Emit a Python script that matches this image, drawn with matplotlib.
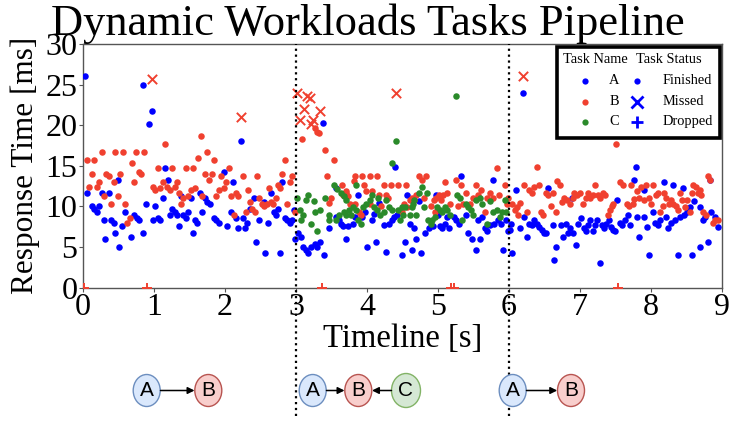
import matplotlib
matplotlib.use("Agg")
import matplotlib.pyplot as plt
from matplotlib.patches import Ellipse, Rectangle

plt.rcParams['font.family'] = ['Liberation Serif', 'DejaVu Serif']

# task A (finished): (time [s], response [ms])
a_pts = [(0.03,26.0),(0.06,11.7),(0.13,10.0),(0.16,9.7),(0.20,9.3),(0.22,10.0),(0.26,11.7),(0.29,8.3),
         (0.31,6.0),(0.36,11.7),(0.39,8.3),(0.43,8.0),(0.45,6.7),(0.49,13.3),(0.51,5.0),(0.55,7.6),
         (0.59,9.3),(0.68,6.3),(0.72,9.0),(0.76,8.6),(0.79,8.3),(0.84,25.0),(0.85,6.7),(0.89,10.3),
         (0.93,20.1),(0.97,21.7),(0.98,8.3),(1.01,10.0),(1.05,8.6),(1.08,8.3),(1.13,11.0),(1.15,14.7),
         (1.19,13.3),(1.22,9.0),(1.25,9.7),(1.29,9.3),(1.32,9.0),(1.35,7.6),(1.38,11.3),(1.41,9.0),
         (1.45,8.6),(1.48,9.3),(1.52,11.0),(1.55,6.7),(1.58,8.3),(1.61,8.0),(1.65,11.7),(1.68,9.3),
         (1.72,11.0),(1.75,10.6),(1.79,10.3),(1.85,8.6),(1.88,8.3),(1.92,8.0),(1.98,14.3),(2.03,7.6),
         (2.08,9.3),(2.11,13.0),(2.15,8.6),(2.18,7.3),(2.22,18.0),(2.25,8.6),(2.28,7.3),(2.31,8.0),
         (2.35,9.7),(2.41,11.0),(2.44,5.6),(2.48,8.3),(2.55,10.6),(2.57,4.3),(2.61,8.0),(2.65,11.7),
         (2.69,9.3),(2.72,9.0),(2.75,9.7),(2.77,4.3),(2.81,13.0),(2.84,8.6),(2.88,8.3),(2.91,8.0),
         (2.95,8.3),(2.97,9.6),(2.99,6.0),
         (3.38,20.3),(3.03,6.7),(3.07,6.3),(3.10,5.0),(3.14,4.6),(3.17,4.3),(3.21,5.0),(3.27,5.4),
         (3.30,5.0),(3.34,5.6),(3.40,4.0),(3.47,7.4),(3.56,8.7),(3.60,8.4),(3.64,7.9),(3.66,7.6),
         (3.57,12.3),(3.70,6.0),(3.74,7.6),(3.81,7.9),(3.83,8.7),(3.87,11.4),(3.93,8.7),(3.97,9.3),
         (4.00,5.0),(4.07,8.4),(4.10,9.1),(4.13,5.6),(4.17,10.4),(4.24,7.7),(4.27,4.4),(4.31,7.9),
         (4.35,8.4),(4.38,8.7),(4.40,14.9),(4.43,9.0),
         (4.49,4.0),(4.53,5.6),(4.57,11.4),(4.60,7.9),(4.63,4.6),(4.66,7.4),(4.69,6.0),(4.74,10.7),
         (4.76,4.3),(4.82,6.7),(4.88,7.3),(4.93,7.6),(4.97,11.4),(5.00,9.0),(5.03,7.6),(5.06,7.4),
         (5.10,7.9),(5.13,8.7),(5.16,7.4),(5.22,8.7),(5.26,8.4),(5.30,7.9),(5.33,13.7),(5.39,9.0),
         (5.42,6.7),(5.48,6.0),(5.53,4.6),(5.56,8.4),(5.59,6.0),(5.62,8.7),(5.66,7.4),(5.69,7.0),
         (5.73,7.7),(5.77,13.3),(5.79,7.9),(5.84,8.4),(5.89,7.9),(5.92,4.6),(5.96,8.4),(5.99,7.0),
         (6.05,4.3),
         (6.20,24.0),(6.10,12.0),(6.02,7.1),(6.03,7.9),(6.16,7.4),(6.22,8.7),(6.26,6.3),(6.28,7.9),
         (6.32,7.7),(6.35,8.3),(6.39,7.9),(6.42,7.5),(6.46,7.1),(6.49,6.8),(6.53,6.7),(6.55,12.3),
         (6.62,7.7),(6.64,3.4),(6.67,5.0),(6.73,7.7),(6.76,6.3),(6.80,7.9),(6.83,6.7),(6.86,7.4),
         (6.89,11.0),(6.91,6.7),(6.94,5.3),(6.98,7.9),(7.02,8.6),(7.06,7.3),(7.09,7.0),(7.12,7.7),
         (7.15,8.3),(7.18,7.0),(7.22,7.7),(7.24,8.3),(7.28,3.0),(7.31,7.7),(7.34,7.3),(7.37,7.9),
         (7.41,8.3),(7.44,7.5),(7.47,7.1),(7.52,10.8),
         (7.50,7.0),(7.57,8.0),(7.60,7.7),(7.64,8.3),(7.68,9.0),(7.71,7.7),(7.76,13.3),(7.79,14.9),
         (7.81,8.7),(7.84,6.3),(7.90,12.0),(7.91,8.7),(7.95,7.5),(7.98,4.0),(8.03,9.3),(8.06,8.0),
         (8.10,7.7),(8.13,8.3),(8.19,13.0),(8.22,8.7),(8.24,7.3),(8.28,8.0),(8.31,12.6),(8.34,8.3),
         (8.38,4.0),(8.41,8.7),(8.45,12.3),(8.47,9.0),(8.51,9.3),(8.55,9.9),(8.58,4.0),(8.61,10.7),
         (8.69,5.0),(8.70,9.9),(8.74,8.4),(8.77,8.7),(8.81,5.6),(8.84,13.3),(8.85,9.3),(8.91,8.7),
         (8.94,7.5)]

# task B (finished)
b_pts = [(0.05,15.7),(0.08,12.4),(0.12,14.0),(0.15,15.7),(0.19,12.4),(0.22,13.0),(0.26,16.7),(0.29,11.3),
         (0.32,14.0),(0.36,13.7),(0.39,10.3),(0.43,13.0),(0.45,16.7),(0.49,11.3),(0.52,14.0),(0.56,16.7),
         (0.59,10.3),(0.62,8.0),(0.66,8.6),(0.69,15.3),(0.72,13.0),(0.75,16.7),(0.79,14.3),(0.82,14.0),
         (0.86,16.7),(0.98,12.4),(1.02,12.0),(1.05,14.7),(1.08,12.3),(1.12,13.0),(1.15,17.7),(1.18,12.4),
         (1.22,12.0),(1.25,14.7),(1.29,12.4),(1.32,13.0),(1.35,11.7),(1.38,10.3),(1.41,11.0),(1.45,14.7),
         (1.48,11.3),(1.52,12.0),(1.55,14.7),(1.58,12.3),(1.62,16.0),(1.66,18.7),(1.68,11.3),(1.72,14.0),
         (1.75,16.7),(1.78,13.3),(1.81,14.0),(1.85,15.7),(1.88,11.3),(1.92,12.0),(1.95,13.7),(1.98,12.3),
         (2.02,13.0),(2.05,14.7),(2.08,11.3),(2.12,9.0),(2.15,11.7),(2.18,11.3),(2.25,13.7),(2.29,9.3),
         (2.32,12.0),(2.35,10.6),(2.38,9.7),(2.42,9.3),(2.45,13.7),(2.48,11.0),(2.52,10.3),(2.55,10.0),
         (2.59,10.3),(2.62,12.3),(2.65,10.6),(2.68,10.3),(2.72,11.0),(2.75,12.7),(2.78,12.3),(2.81,14.0),
         (2.85,15.7),(2.88,10.3),(2.91,13.0),(2.94,13.7),(2.98,9.3),
         (3.08,18.3),(3.27,19.6),(3.30,19.2),(3.32,19.0),(3.41,17.0),(3.54,15.7),(3.44,13.7),(3.50,11.1),
         (3.46,10.4),(3.65,12.6),(3.70,11.9),(3.66,11.4),(3.71,11.7),(3.74,11.3),(3.83,13.7),(3.82,13.1),
         (3.93,13.7),(3.96,12.6),(4.04,13.7),(4.14,13.7),(3.76,10.3),(3.83,10.3),(3.91,9.0),(3.89,9.3),
         (3.99,11.9),(4.07,11.9),(4.17,11.4),(4.20,10.0),(4.24,12.6),(4.34,12.6),(4.44,12.6),(4.27,11.4),
         (4.30,11.1),(4.04,10.3),
         (4.55,12.6),(4.49,9.3),(4.52,10.3),(4.56,9.9),(4.60,10.8),(4.64,11.1),(4.69,11.4),(4.66,10.8),
         (4.73,13.7),(4.77,13.3),(4.83,13.7),(4.80,11.1),(4.90,10.0),(4.94,10.8),(4.98,11.1),(5.01,11.4),
         (5.05,10.8),(5.07,11.4),(5.13,11.7),(5.17,10.3),(4.96,9.3),(5.10,13.0),(5.26,13.3),(5.33,12.6),
         (5.28,10.0),(5.35,10.3),(5.40,11.7),(5.45,10.3),(5.50,11.1),(5.53,12.6),(5.57,11.4),(5.61,12.0),
         (5.66,9.3),(5.69,11.1),(5.73,11.7),(5.78,11.1),(5.83,14.7),(5.86,11.4),(5.94,12.6),(5.97,10.3),
         (5.99,11.1),(6.05,10.3),
         (6.08,9.6),(6.12,9.9),(6.16,10.4),(6.13,8.9),(6.25,9.3),(6.22,12.6),(6.28,12.0),(6.32,11.7),
         (6.36,12.4),(6.42,12.6),(6.40,14.9),(6.45,9.3),(6.48,9.0),(6.52,11.7),(6.55,11.4),(6.59,10.0),
         (6.62,11.7),(6.66,9.3),(6.68,13.1),(6.72,12.6),(6.75,10.6),(6.78,11.1),(6.82,10.8),(6.86,10.3),
         (6.90,11.1),(6.92,11.7),(6.96,11.4),(7.00,11.7),(7.04,10.3),(7.08,11.1),(7.11,11.7),(7.15,11.1),
         (7.19,11.4),(7.22,12.6),(7.25,11.4),(7.29,11.1),(7.33,11.7),(7.36,11.4),(7.39,9.0),(7.42,9.6),
         (7.45,10.0),(7.47,10.3),(7.51,17.7),
         (7.57,13.0),(7.61,12.6),(7.66,10.3),(7.69,10.0),(7.72,12.6),(7.75,10.3),(7.77,10.9),(7.81,11.9),
         (7.84,11.1),(7.86,12.4),(7.90,10.8),(7.93,12.6),(7.97,11.1),(8.00,10.3),(8.03,12.6),(8.07,11.4),
         (8.10,11.7),(8.13,9.3),(8.17,10.0),(8.19,11.7),(8.22,11.1),(8.25,10.3),(8.28,10.8),(8.31,10.3),
         (8.35,10.0),(8.38,9.6),(8.41,11.7),(8.44,10.8),(8.48,9.9),(8.51,10.8),(8.55,9.3),(8.58,11.7),
         (8.60,12.6),(8.63,12.4),(8.66,11.7),(8.69,12.0),(8.71,11.4),(8.74,9.3),(8.78,9.0),(8.81,13.7),
         (8.84,13.3),(8.87,8.0),(8.91,8.4),(8.94,8.4)]

# task C (finished), only in the middle phase
c_pts = [(3.01,11.0),(3.05,9.6),(3.10,9.0),(3.07,8.4),(3.17,11.4),(3.14,10.8),(3.21,7.9),(3.25,10.7),
         (3.27,9.3),(3.30,7.0),(3.34,9.6),(3.41,11.0),(3.47,9.0),(3.46,8.4),(3.54,12.6),(3.58,12.1),
         (3.63,11.7),(3.68,11.3),(3.71,10.8),(3.56,8.4),(3.60,9.0),(3.68,9.3),(3.71,9.0),(3.75,9.6),
         (3.77,9.0),(3.81,9.9),(3.84,9.6),(3.84,12.6),(3.88,8.4),(3.91,7.9),(3.94,9.9),(3.98,10.3),
         (4.04,10.8),(4.10,9.9),(4.14,9.6),(4.19,9.0),(4.24,9.3),(4.31,9.9),(4.35,9.6),(4.44,9.6),
         (4.49,9.9),(4.07,11.4),(4.15,11.0),(4.27,10.8),(4.36,15.4),(4.41,18.0),
         (4.46,8.4),(4.51,9.0),(4.53,9.9),(4.60,9.0),(4.63,9.9),(4.65,10.3),(4.69,9.0),(4.67,10.8),
         (4.74,11.7),(4.77,12.4),(4.80,9.9),(4.84,11.7),(4.86,8.4),(4.90,7.9),(4.92,8.4),(4.96,8.7),
         (4.99,9.9),(5.03,9.6),(5.06,9.3),(5.10,9.9),(5.13,9.6),(5.17,9.0),(5.25,23.6),(5.27,11.4),
         (5.31,11.1),(5.34,8.4),(5.39,10.3),(5.42,9.9),(5.46,9.6),(5.49,9.0),(5.53,10.8),(5.59,11.1),
         (5.62,10.3),(5.69,7.9),(5.73,10.7),(5.77,9.3),(5.83,9.6),(5.87,8.7),(5.90,9.3),(5.94,10.8),
         (5.96,9.3)]

# task B deadline misses and drops
b_missed = [(0.97,25.7),(2.22,21.0),(3.02,24.0),(3.06,20.7),(3.12,22.0),(3.16,23.6),(3.20,23.4),
            (3.24,20.7),(3.21,20.2),(3.34,21.7),(4.41,24.0),(6.20,26.0)]
b_dropped = [0.02, 0.90, 3.36, 5.19, 5.23, 7.54]

phase_bounds = [3, 6]
x_ticks = list(range(0, 10))
y_ticks = [0, 5, 10, 15, 20, 25, 30]

col_a = '#0000ff'
col_b = '#f0402f'
col_c = '#2a8a2a'

fig = plt.figure(figsize=(7.35, 4.22), dpi=100)
ax = fig.add_axes([0.113, 0.318, 0.869, 0.578])

for pts, col in [(a_pts, col_a), (b_pts, col_b), (c_pts, col_c)]:
    ax.scatter([p[0] for p in pts], [p[1] for p in pts], s=22, color=col, linewidths=0, zorder=3)
ax.scatter([p[0] for p in b_missed], [p[1] for p in b_missed], s=45, marker='x',
           color=col_b, linewidths=1.4, zorder=4)
ax.scatter(b_dropped, [0] * len(b_dropped), s=60, marker='+', color=col_b, linewidths=1.4, zorder=4)

for xb in phase_bounds:
    ax.axvline(xb, ymin=-0.525, ymax=1, color='black', ls=':', lw=1.6, clip_on=False, zorder=5)

ax.set_xlim(0, 9)
ax.set_ylim(0, 30)
ax.set_xticks(x_ticks)
ax.set_yticks(y_ticks)
ax.tick_params(labelsize=23, length=3, width=0.8, color='#555555', pad=1)
for sp in ax.spines.values():
    sp.set_color('#555555')
    sp.set_linewidth(1.0)
ax.set_xlabel('Timeline [s]', fontsize=23.5, labelpad=1)
ax.set_ylabel('Response Time [ms]', fontsize=22.5, labelpad=4)
fig.text(0.5, 0.918, 'Dynamic Workloads Tasks Pipeline', ha='center', va='baseline', fontsize=32)

# overlay in pixel units for the pipeline sketches and the legend box
ov = fig.add_axes([0, 0, 1, 1])
ov.set_xlim(0, 735)
ov.set_ylim(422, 0)
ov.axis('off')
ov.patch.set_visible(False)

node_style = {'A': ('#dae8fc', '#6c8ebf'), 'B': ('#f8cecc', '#b85450'), 'C': ('#d5e8d4', '#82b366')}
nodes = [('A', 146.7, 27, 32), ('B', 208.3, 27, 32),
         ('A', 312.7, 27, 32), ('B', 358.3, 27, 32), ('C', 406.0, 29, 34),
         ('A', 512.7, 27, 32), ('B', 571.0, 27, 32)]
for name, cx, w, h in nodes:
    fc, ec = node_style[name]
    ov.add_patch(Ellipse((cx, 390.5), w, h, facecolor=fc, edgecolor=ec, lw=1))
    ov.text(cx, 391, name, ha='center', va='center', fontsize=15, family='Liberation Sans')
arrows = [(160.5, 194.5), (326.5, 344.5), (391.5, 372.0), (526.5, 557.2)]
for x0, x1 in arrows:
    ov.annotate('', xy=(x1, 390.5), xytext=(x0, 390.5),
                arrowprops=dict(arrowstyle='-|>', color='black', lw=1.1, mutation_scale=10,
                                shrinkA=0, shrinkB=0))

# legend
ov.add_patch(Rectangle((557, 47), 163, 91, facecolor='white', edgecolor='black', lw=2.6, zorder=6))
ov.text(563, 59.5, 'Task Name', ha='left', va='center', fontsize=10.4, zorder=7)
ov.text(636, 59.5, 'Task Status', ha='left', va='center', fontsize=10.4, zorder=7)
rows = [80.7, 101.7, 121.7]
for y, col, lab in zip(rows, [col_a, col_b, col_c], ['A', 'B', 'C']):
    ov.plot(585, y, 'o', color=col, ms=4.5, mew=0, zorder=7)
    ov.text(614, y, lab, ha='center', va='center', fontsize=10.4, zorder=7)
for y, mk, lab in zip(rows, ['o', 'x', '+'], ['Finished', 'Missed', 'Dropped']):
    if mk == 'o':
        ov.plot(637.5, y, mk, color=col_a, ms=4.5, mew=0, zorder=7)
    else:
        ov.plot(637.5, y, mk, color=col_a, ms=8, mew=2, zorder=7)
    ov.text(663, y, lab, ha='left', va='center', fontsize=10.4, zorder=7)

fig.savefig('out.png', dpi=100)
